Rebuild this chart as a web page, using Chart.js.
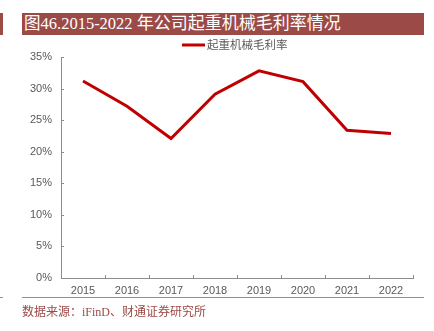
<!DOCTYPE html>
<html>
<head>
<meta charset="utf-8">
<script src="https://cdn.jsdelivr.net/npm/chart.js@4.4.1/dist/chart.umd.min.js"></script>
<style>
  html, body { margin: 0; padding: 0; background: #fff; }
  #wrap { position: relative; width: 434px; height: 331px; overflow: hidden; }
  #title {
    position: absolute; left: 22px; top: 13px; width: 402px; height: 22px;
    background: #9b4a47; color: #fff;
    font: 16.5px "Liberation Serif", "Noto Sans CJK SC", serif;
    line-height: 22px; padding-left: 2px; box-sizing: border-box; white-space: nowrap;
  }
  #title .cn { font-size: 17px; letter-spacing: 0px; }
  #mark { position: absolute; left: 0; top: 13px; width: 3px; height: 22px; background: #9b4a47; }
  #rule { position: absolute; left: 22px; top: 297px; width: 402px; height: 1px; background: #b9807d; }
  #rule2 { position: absolute; left: 0; top: 297px; width: 3px; height: 1px; background: #b9807d; }
  #src {
    position: absolute; left: 22px; top: 302px; color: #9b4a47;
    font: 12px "Liberation Serif", "Noto Sans CJK SC", serif; white-space: nowrap;
  }
  canvas { position: absolute; left: 0; top: 0; }
</style>
</head>
<body>
<div id="wrap">
  <canvas id="c" width="434" height="331"></canvas>
  <div id="mark"></div>
  <div id="title">图46.2015-2022 <span class="cn">年公司起重机械毛利率情况</span></div>
  <div id="rule2"></div>
  <div id="rule"></div>
  <div id="src">数据来源：iFinD、财通证券研究所</div>
</div>
<script>
// Gross margin of the lifting machinery business, 2015-2022 (%)
const years = ['2015', '2016', '2017', '2018', '2019', '2020', '2021', '2022'];
const grossMargin = [31.2, 27.2, 22.1, 29.1, 32.8, 31.1, 23.4, 22.9];
const seriesName = '起重机械毛利率';
const yTicks = [0, 5, 10, 15, 20, 25, 30, 35];

const axisColor = '#8c8c8c';
const lineColor = '#c00000';

// Inward tick marks on both axes plus the legend entry above the plot
const decor = {
  id: 'decor',
  afterDraw(chart) {
    const ctx = chart.ctx;
    const x = chart.scales.x, y = chart.scales.y;
    const area = chart.chartArea;
    ctx.save();
    ctx.strokeStyle = axisColor;
    ctx.lineWidth = 1;
    // y ticks
    yTicks.forEach(v => {
      const py = Math.round(y.getPixelForValue(v)) + 0.5;
      ctx.beginPath();
      ctx.moveTo(area.left, py);
      ctx.lineTo(area.left + 3, py);
      ctx.stroke();
    });
    // x ticks at category boundaries
    const n = years.length;
    const step = x.getPixelForValue(1) - x.getPixelForValue(0);
    for (let i = 0; i <= n; i++) {
      const px = Math.round(x.getPixelForValue(i) - step / 2) + 0.5;
      ctx.beginPath();
      ctx.moveTo(px, area.bottom);
      ctx.lineTo(px, area.bottom - 3);
      ctx.stroke();
    }
    // legend
    const ds = chart.data.datasets[0];
    ctx.strokeStyle = ds.borderColor;
    ctx.lineWidth = 3;
    ctx.beginPath();
    ctx.moveTo(182, 45);
    ctx.lineTo(205, 45);
    ctx.stroke();
    ctx.fillStyle = '#595959';
    ctx.font = '11.5px "Noto Sans CJK SC", sans-serif';
    ctx.textBaseline = 'middle';
    ctx.textAlign = 'left';
    ctx.fillText(ds.label, 207, 45);
    ctx.restore();
  }
};

new Chart(document.getElementById('c'), {
  type: 'line',
  data: {
    labels: years,
    datasets: [{
      label: seriesName,
      data: grossMargin,
      borderColor: lineColor,
      backgroundColor: lineColor,
      borderWidth: 3,
      pointRadius: 0,
      tension: 0,
      fill: false
    }]
  },
  options: {
    responsive: false,
    animation: false,
    devicePixelRatio: 1,
    layout: { padding: { top: 57, right: 21, left: 0, bottom: 0 } },
    plugins: { legend: { display: false }, tooltip: { enabled: false } },
    scales: {
      x: {
        type: 'category',
        offset: true,
        afterFit(s) { s.height = 53; },
        grid: { display: false, drawTicks: false },
        border: { display: true, color: axisColor, width: 1 },
        ticks: {
          color: '#595959',
          padding: 6,
          maxRotation: 0,
          font: { family: 'Liberation Sans, Arial, sans-serif', size: 11 }
        }
      },
      y: {
        min: 0,
        max: 35,
        afterFit(s) { s.width = 61; },
        afterBuildTicks(s) { s.ticks = yTicks.map(v => ({ value: v })); },
        grid: { display: false, drawTicks: false },
        border: { display: true, color: axisColor, width: 1 },
        ticks: {
          color: '#595959',
          padding: 9,
          font: { family: 'Liberation Sans, Arial, sans-serif', size: 11 },
          callback: v => v + '%'
        }
      }
    }
  },
  plugins: [decor]
});
</script>
</body>
</html>
